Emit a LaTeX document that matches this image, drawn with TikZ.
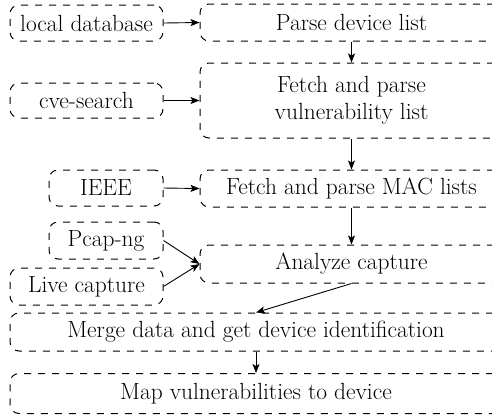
\documentclass[tikz,border=0pt]{standalone}
\usetikzlibrary{arrows.meta}

\begin{document}
\begin{tikzpicture}[x=1pt, y=-1pt,
        stepbox/.style={draw, dash pattern=on 7pt off 7pt, rounded corners=9pt, line width=1pt,
            inner sep=0pt, align=center, font=\fontsize{23.4}{27}\selectfont},
        flow/.style={-{Stealth[length=9pt, width=7pt, inset=2pt]}, line width=0.9pt}]
        \clip (0, 0) rectangle (492, 416);
        \node[stepbox, minimum width=153pt, minimum height=36pt] (localdb) at (86.5, 23) {local database};
        \node[stepbox, minimum width=303pt, minimum height=37pt] (parse) at (351.5, 22.5) {Parse device list};
        \node[stepbox, minimum width=303pt, minimum height=75pt] (vuln) at (351.5, 100.5) {Fetch and parse\\vulnerability list};
        \node[stepbox, minimum width=153pt, minimum height=35pt] (cve) at (86.5, 100.5) {cve-search};
        \node[stepbox, minimum width=114pt, minimum height=36pt] (ieee) at (106, 188) {IEEE};
        \node[stepbox, minimum width=303pt, minimum height=37pt] (mac) at (351.5, 188.5) {Fetch and parse MAC lists};
        \node[stepbox, minimum width=114pt, minimum height=37pt] (pcap) at (106, 240.5) {Pcap-ng};
        \node[stepbox, minimum width=153pt, minimum height=37pt] (live) at (86.5, 286.5) {Live capture};
        \node[stepbox, minimum width=303pt, minimum height=38pt] (analyze) at (351.5, 264) {Analyze capture};
        \node[stepbox, minimum width=492pt, minimum height=38pt] (merge) at (256, 332) {Merge data and get device identification};
        \node[stepbox, minimum width=492pt, minimum height=40pt] (map) at (256, 393.5) {Map vulnerabilities to device};

        \draw[flow] (localdb.east) to (parse.west);
        \draw[flow] (cve.east) to (vuln.west);
        \draw[flow] (ieee.east) to (mac.west);
        \draw[flow] (pcap.east) to (analyze.west);
        \draw[flow] (live.east) to (analyze.west);
        \draw[flow] (parse) to (vuln);
        \draw[flow] (vuln) to (mac);
        \draw[flow] (mac) to (analyze);
        \draw[flow] (analyze.south) to (merge.north);
        \draw[flow] (merge) to (map);
    \end{tikzpicture}
\end{document}
